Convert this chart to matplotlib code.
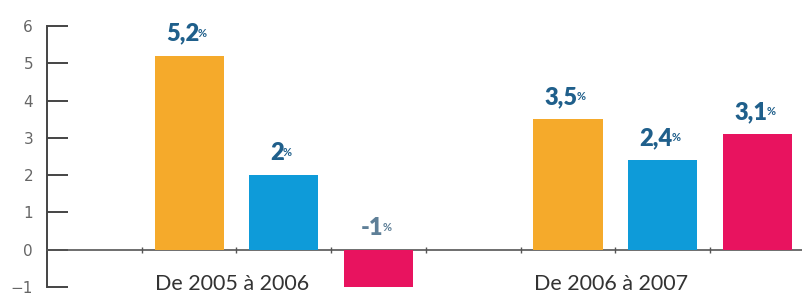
import matplotlib
matplotlib.use("Agg")
import matplotlib.pyplot as plt

# ---------------------------------------------------------------------------
# Data
# ---------------------------------------------------------------------------
periods = ["De 2005 à 2006", "De 2006 à 2007"]
values_2005_2006 = [5.2, 2.0, -1.0]
values_2006_2007 = [3.5, 2.4, 3.1]
value_labels_2005_2006 = ["5,2", "2", "-1"]
value_labels_2006_2007 = ["3,5", "2,4", "3,1"]
bar_colors = ["#F5AA2B", "#0E9BD9", "#E8135F"]
y_ticks = [-1, 0, 1, 2, 3, 4, 5, 6]

# ---------------------------------------------------------------------------
# Chart
# ---------------------------------------------------------------------------
fig = plt.figure(figsize=(8.02, 2.97), dpi=100)
ax = fig.add_axes([47 / 802, 1 - 287 / 297, 1 - 47 / 802, (287 - 26) / 297])

groups = [values_2005_2006, values_2006_2007]
labels = [value_labels_2005_2006, value_labels_2006_2007]
label_color = "#1F5F8B"

texts = []
for g, (vals, labs) in enumerate(zip(groups, labels)):
    xs = [g * 4 + i for i in range(len(vals))]
    ax.bar(xs, vals, width=0.73, color=bar_colors, zorder=3)
    for x, v, lab in zip(xs, vals, labs):
        y = max(v, 0) + 0.3
        col = label_color if v >= 0 else "#5E7F97"
        t = ax.text(x - 0.07, y, lab, ha="center", va="bottom",
                    fontsize=17, fontweight="heavy", color=col,
                    family="Lato", zorder=4)
        texts.append((t, col))
    ax.text(g * 4 + 0.45, -0.93, periods[g], ha="center", va="center",
            fontsize=15.5, color="#333333", family="Lato")

ax.set_xlim(-1.5, 6.47)
ax.set_ylim(-1, 6)

for side in ("top", "right"):
    ax.spines[side].set_visible(False)
ax.spines["left"].set_bounds(-1, 6)
ax.spines["left"].set_color("#444444")
ax.spines["left"].set_linewidth(1.4)
ax.spines["bottom"].set_position(("data", 0))
ax.spines["bottom"].set_color("#555555")
ax.spines["bottom"].set_linewidth(1.2)

ax.set_yticks(y_ticks)
ax.tick_params(axis="y", direction="in", length=15, width=1.4,
               color="#444444", labelsize=11, labelcolor="#666666", pad=10)
ax.set_xticks([-0.5, 0.5, 1.5, 2.5, 3.5, 4.5, 5.5])
ax.set_xticklabels([])
ax.tick_params(axis="x", direction="inout", length=5, width=1.0,
               color="#555555")

# small "%" right after each value label
fig.canvas.draw()
renderer = fig.canvas.get_renderer()
inv = ax.transData.inverted()
for t, col in texts:
    bb = t.get_window_extent(renderer)
    x_right, y_top = inv.transform((bb.x1 - 1, bb.y1 - 5))
    ax.text(x_right, y_top, "%", ha="left", va="top",
            fontsize=8, fontweight="bold", color=col, family="Lato", zorder=4)

fig.savefig("out.png", dpi=100)
